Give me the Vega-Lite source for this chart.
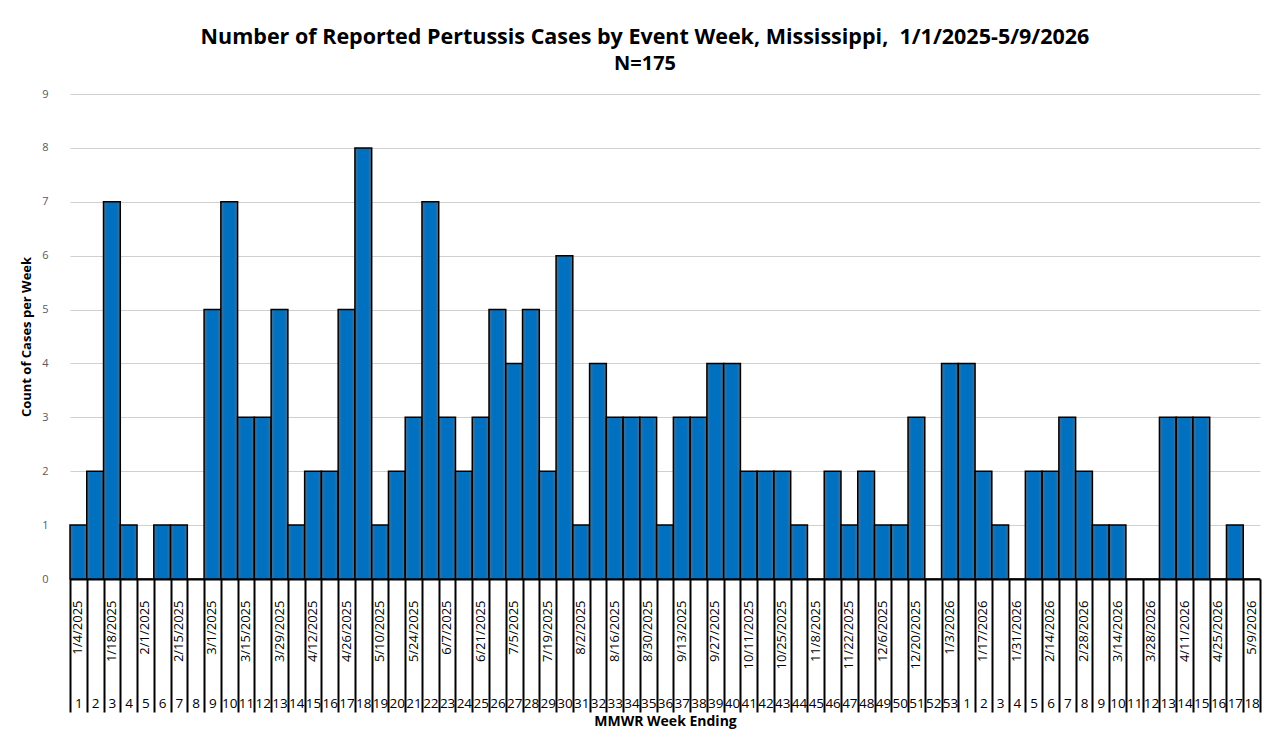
{
  "$schema": "https://vega.github.io/schema/vega-lite/v6.json",
  "autosize": {"type": "none"},
  "width": 1190,
  "height": 485,
  "padding": {"left": 70, "top": 94, "right": 20, "bottom": 159},
  "background": "#ffffff",
  "title": {
    "text": "Number of Reported Pertussis Cases by Event Week, Mississippi,\u00a0 1/1/2025-5/9/2026",
    "subtitle": "N=175",
    "font": "Open Sans",
    "fontSize": 21.5,
    "fontWeight": "bold",
    "color": "#000000",
    "subtitleFont": "Open Sans",
    "subtitleFontSize": 20,
    "subtitleFontWeight": "bold",
    "subtitleColor": "#000000",
    "subtitlePadding": 6,
    "anchor": "middle",
    "dx": -20,
    "offset": 14
  },
  "data": {
    "values": [
      {"mmwr": "2025-W01", "week_ending": "1/4/2025", "cases": 1},
      {"mmwr": "2025-W02", "week_ending": "1/11/2025", "cases": 2},
      {"mmwr": "2025-W03", "week_ending": "1/18/2025", "cases": 7},
      {"mmwr": "2025-W04", "week_ending": "1/25/2025", "cases": 1},
      {"mmwr": "2025-W05", "week_ending": "2/1/2025", "cases": 0},
      {"mmwr": "2025-W06", "week_ending": "2/8/2025", "cases": 1},
      {"mmwr": "2025-W07", "week_ending": "2/15/2025", "cases": 1},
      {"mmwr": "2025-W08", "week_ending": "2/22/2025", "cases": 0},
      {"mmwr": "2025-W09", "week_ending": "3/1/2025", "cases": 5},
      {"mmwr": "2025-W10", "week_ending": "3/8/2025", "cases": 7},
      {"mmwr": "2025-W11", "week_ending": "3/15/2025", "cases": 3},
      {"mmwr": "2025-W12", "week_ending": "3/22/2025", "cases": 3},
      {"mmwr": "2025-W13", "week_ending": "3/29/2025", "cases": 5},
      {"mmwr": "2025-W14", "week_ending": "4/5/2025", "cases": 1},
      {"mmwr": "2025-W15", "week_ending": "4/12/2025", "cases": 2},
      {"mmwr": "2025-W16", "week_ending": "4/19/2025", "cases": 2},
      {"mmwr": "2025-W17", "week_ending": "4/26/2025", "cases": 5},
      {"mmwr": "2025-W18", "week_ending": "5/3/2025", "cases": 8},
      {"mmwr": "2025-W19", "week_ending": "5/10/2025", "cases": 1},
      {"mmwr": "2025-W20", "week_ending": "5/17/2025", "cases": 2},
      {"mmwr": "2025-W21", "week_ending": "5/24/2025", "cases": 3},
      {"mmwr": "2025-W22", "week_ending": "5/31/2025", "cases": 7},
      {"mmwr": "2025-W23", "week_ending": "6/7/2025", "cases": 3},
      {"mmwr": "2025-W24", "week_ending": "6/14/2025", "cases": 2},
      {"mmwr": "2025-W25", "week_ending": "6/21/2025", "cases": 3},
      {"mmwr": "2025-W26", "week_ending": "6/28/2025", "cases": 5},
      {"mmwr": "2025-W27", "week_ending": "7/5/2025", "cases": 4},
      {"mmwr": "2025-W28", "week_ending": "7/12/2025", "cases": 5},
      {"mmwr": "2025-W29", "week_ending": "7/19/2025", "cases": 2},
      {"mmwr": "2025-W30", "week_ending": "7/26/2025", "cases": 6},
      {"mmwr": "2025-W31", "week_ending": "8/2/2025", "cases": 1},
      {"mmwr": "2025-W32", "week_ending": "8/9/2025", "cases": 4},
      {"mmwr": "2025-W33", "week_ending": "8/16/2025", "cases": 3},
      {"mmwr": "2025-W34", "week_ending": "8/23/2025", "cases": 3},
      {"mmwr": "2025-W35", "week_ending": "8/30/2025", "cases": 3},
      {"mmwr": "2025-W36", "week_ending": "9/6/2025", "cases": 1},
      {"mmwr": "2025-W37", "week_ending": "9/13/2025", "cases": 3},
      {"mmwr": "2025-W38", "week_ending": "9/20/2025", "cases": 3},
      {"mmwr": "2025-W39", "week_ending": "9/27/2025", "cases": 4},
      {"mmwr": "2025-W40", "week_ending": "10/4/2025", "cases": 4},
      {"mmwr": "2025-W41", "week_ending": "10/11/2025", "cases": 2},
      {"mmwr": "2025-W42", "week_ending": "10/18/2025", "cases": 2},
      {"mmwr": "2025-W43", "week_ending": "10/25/2025", "cases": 2},
      {"mmwr": "2025-W44", "week_ending": "11/1/2025", "cases": 1},
      {"mmwr": "2025-W45", "week_ending": "11/8/2025", "cases": 0},
      {"mmwr": "2025-W46", "week_ending": "11/15/2025", "cases": 2},
      {"mmwr": "2025-W47", "week_ending": "11/22/2025", "cases": 1},
      {"mmwr": "2025-W48", "week_ending": "11/29/2025", "cases": 2},
      {"mmwr": "2025-W49", "week_ending": "12/6/2025", "cases": 1},
      {"mmwr": "2025-W50", "week_ending": "12/13/2025", "cases": 1},
      {"mmwr": "2025-W51", "week_ending": "12/20/2025", "cases": 3},
      {"mmwr": "2025-W52", "week_ending": "12/27/2025", "cases": 0},
      {"mmwr": "2025-W53", "week_ending": "1/3/2026", "cases": 4},
      {"mmwr": "2026-W01", "week_ending": "1/10/2026", "cases": 4},
      {"mmwr": "2026-W02", "week_ending": "1/17/2026", "cases": 2},
      {"mmwr": "2026-W03", "week_ending": "1/24/2026", "cases": 1},
      {"mmwr": "2026-W04", "week_ending": "1/31/2026", "cases": 0},
      {"mmwr": "2026-W05", "week_ending": "2/7/2026", "cases": 2},
      {"mmwr": "2026-W06", "week_ending": "2/14/2026", "cases": 2},
      {"mmwr": "2026-W07", "week_ending": "2/21/2026", "cases": 3},
      {"mmwr": "2026-W08", "week_ending": "2/28/2026", "cases": 2},
      {"mmwr": "2026-W09", "week_ending": "3/7/2026", "cases": 1},
      {"mmwr": "2026-W10", "week_ending": "3/14/2026", "cases": 1},
      {"mmwr": "2026-W11", "week_ending": "3/21/2026", "cases": 0},
      {"mmwr": "2026-W12", "week_ending": "3/28/2026", "cases": 0},
      {"mmwr": "2026-W13", "week_ending": "4/4/2026", "cases": 3},
      {"mmwr": "2026-W14", "week_ending": "4/11/2026", "cases": 3},
      {"mmwr": "2026-W15", "week_ending": "4/18/2026", "cases": 3},
      {"mmwr": "2026-W16", "week_ending": "4/25/2026", "cases": 0},
      {"mmwr": "2026-W17", "week_ending": "5/2/2026", "cases": 1},
      {"mmwr": "2026-W18", "week_ending": "5/9/2026", "cases": 0}
    ]
  },
  "layer": [
    {
      "mark": {
        "type": "bar",
        "fill": {
          "gradient": "linear",
          "x1": 0, "x2": 1, "y1": 0, "y2": 0,
          "stops": [
            {"offset": 0, "color": "#4a6f8f"},
            {"offset": 0.25, "color": "#0070C0"},
            {"offset": 0.75, "color": "#0070C0"},
            {"offset": 1, "color": "#4a6f8f"}
          ]
        },
        "stroke": "#000000",
        "strokeWidth": 1.5
      },
      "encoding": {
        "x": {
          "field": "week_ending",
          "type": "ordinal",
          "sort": null,
          "scale": {"paddingInner": 0, "paddingOuter": 0},
          "axis": {
            "orient": "bottom",
            "title": null,
            "labelExpr": "round(datum.index * 70) % 2 === 0 ? datum.value : ''",
            "labelAngle": 270,
            "labelAlign": "right",
            "labelBaseline": "middle",
            "labelPadding": 21,
            "labelFont": "Open Sans",
            "labelFontSize": 13,
            "labelColor": "#000000",
            "labelOverlap": false,
            "ticks": false,
            "domain": true,
            "domainColor": "#000000",
            "domainWidth": 2,
            "grid": false
          }
        },
        "y": {
          "field": "cases",
          "type": "quantitative",
          "scale": {"domain": [0, 9], "nice": false},
          "axis": {
            "title": "Count of Cases per Week",
            "titleFont": "Open Sans",
            "titleFontSize": 13,
            "titleFontWeight": "bold",
            "titleColor": "#000000",
            "titlePadding": 8,
            "values": [0, 1, 2, 3, 4, 5, 6, 7, 8, 9],
            "format": "d",
            "labelFont": "Open Sans",
            "labelFontSize": 11,
            "labelColor": "#595959",
            "labelPadding": 22,
            "ticks": false,
            "domain": false,
            "grid": true,
            "gridColor": "#d0d0d0",
            "gridWidth": 1.2
          }
        }
      }
    },
    {
      "mark": {"type": "bar", "opacity": 0},
      "encoding": {
        "x": {
          "field": "mmwr",
          "type": "ordinal",
          "sort": null,
          "scale": {"paddingInner": 0, "paddingOuter": 0},
          "axis": {
            "orient": "bottom",
            "title": "MMWR Week Ending",
            "titleFont": "Open Sans",
            "titleFontSize": 14,
            "titleFontWeight": "bold",
            "titleColor": "#000000",
            "titlePadding": 1,
            "labelExpr": "toNumber(split(datum.value, 'W')[1])",
            "labelAngle": 0,
            "labelFont": "Open Sans",
            "labelFontSize": 13.5,
            "labelColor": "#000000",
            "labelPadding": -16,
            "labelOverlap": false,
            "ticks": true,
            "tickBand": "extent",
            "tickSize": 133,
            "tickWidth": 2,
            "tickColor": "#000000",
            "domain": false,
            "grid": false
          }
        },
        "y": {"field": "cases", "type": "quantitative"}
      }
    }
  ],
  "resolve": {"scale": {"x": "independent"}, "axis": {"x": "independent"}},
  "config": {
    "view": {"stroke": null}
  }
}
